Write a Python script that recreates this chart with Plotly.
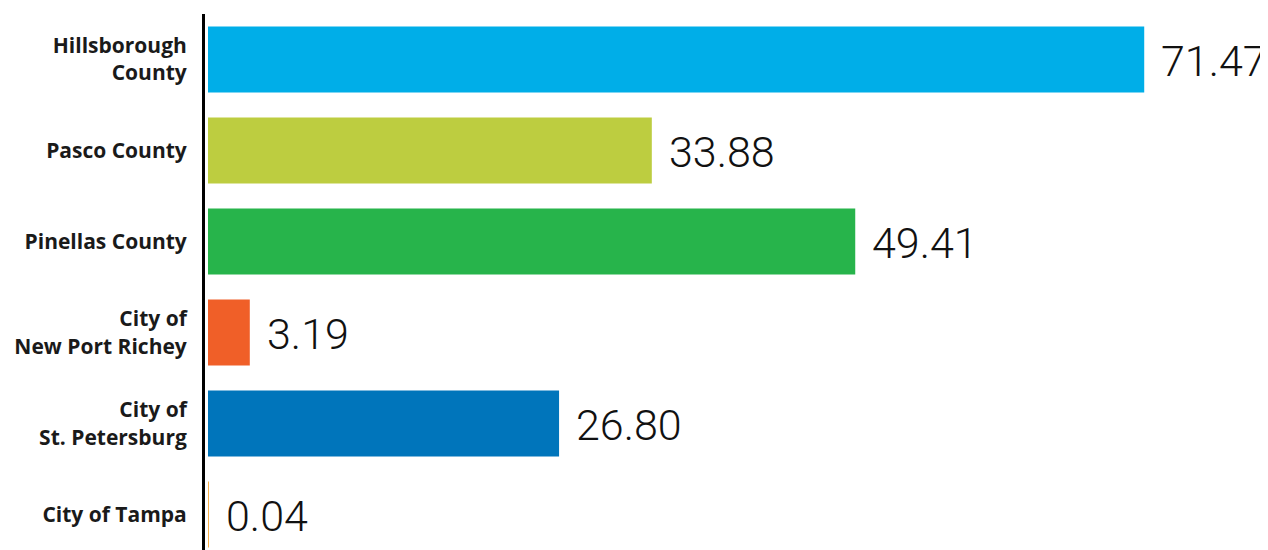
import plotly.graph_objects as go

categories = ["Hillsborough<br>County", "Pasco County", "Pinellas County",
              "City of<br>New Port Richey", "City of<br>St. Petersburg", "City of Tampa"]
values = [71.47, 33.88, 49.41, 3.19, 26.80, 0.04]
labels = ["71.47", "33.88", "49.41", "3.19", "26.80", "0.04"]
colors = ["#00AEE8", "#BDCD40", "#27B44B", "#F05F28", "#0075BB", "#F7B04A"]

fig = go.Figure()
fig.add_trace(go.Bar(
    y=categories, x=values, orientation="h",
    marker=dict(color=colors, line=dict(width=0)),
    hoverinfo="skip",
))

for c, v, t in zip(categories, values, labels):
    fig.add_annotation(x=v, y=c, text=t, showarrow=False, xanchor="left",
                       yanchor="middle", xshift=15, yshift=-1,
                       font=dict(family="Roboto", size=43, weight=300,
                                 color="#111111"))

fig.update_layout(
    width=1268, height=550,
    margin=dict(l=197, r=0, t=6, b=8),
    paper_bgcolor="white", plot_bgcolor="white",
    bargap=0.275, showlegend=False,
    xaxis=dict(range=[-0.229, 81.53], visible=False, fixedrange=True),
    yaxis=dict(type="category", categoryorder="array", categoryarray=categories,
               range=[5.39, -0.5], showline=True, linecolor="#000000", linewidth=3,
               showgrid=False, zeroline=False, ticks="", ticklabelstandoff=11,
               tickfont=dict(family="Open Sans", size=21, color="#1a1a1a", weight="bold")),
)

fig.write_html("out.html")
